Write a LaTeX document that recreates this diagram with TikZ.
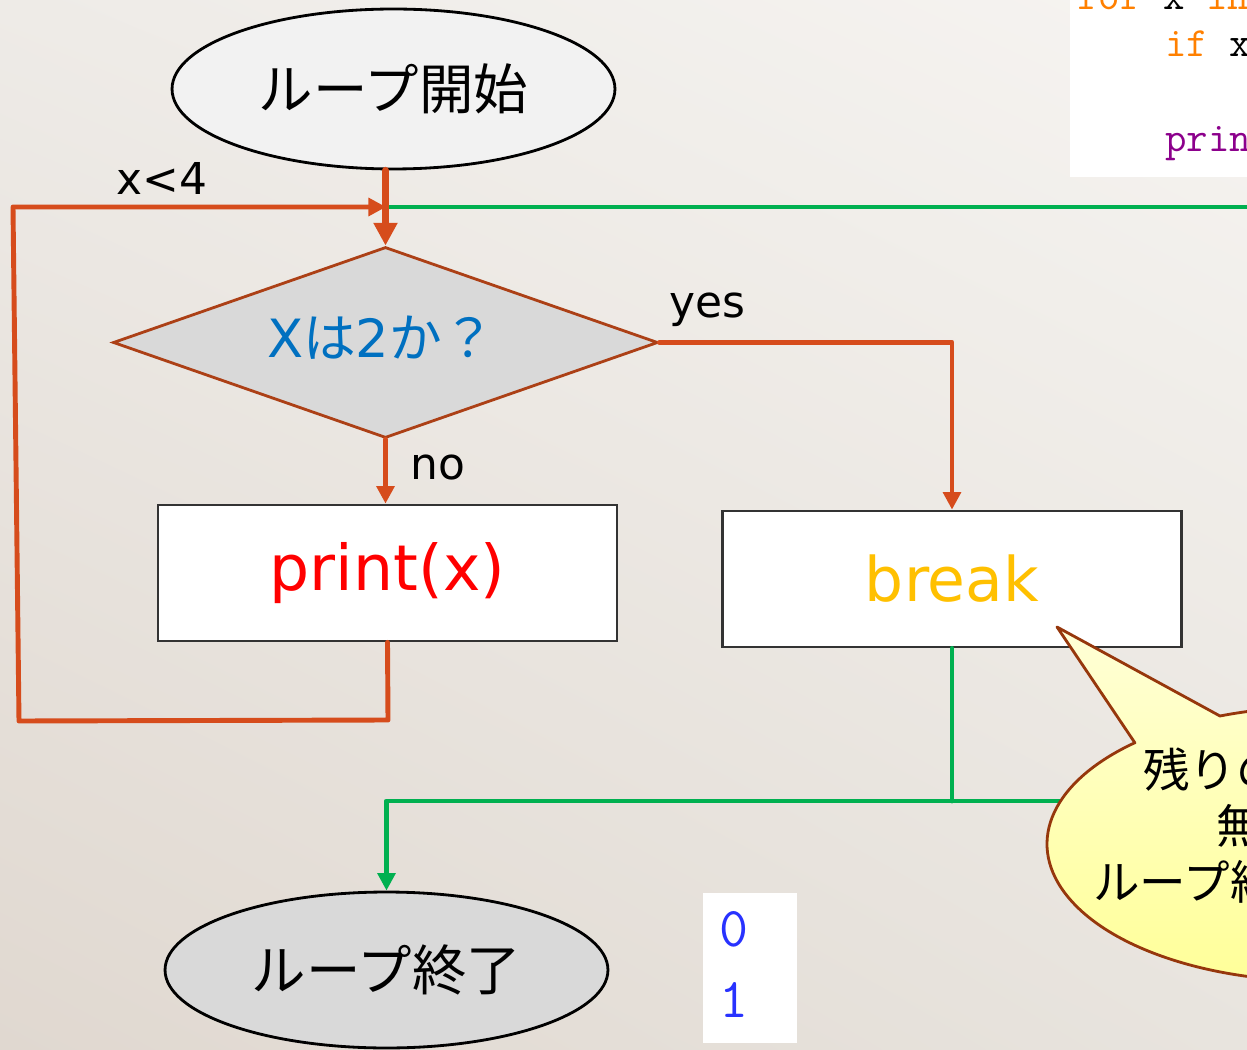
\documentclass[tikz,border=0pt]{standalone}
\usepackage{fontspec}
\setmainfont{DejaVu Sans}
\newfontfamily\jp{Noto Sans CJK JP}
\usetikzlibrary{shapes.geometric,arrows.meta,shadings}
\definecolor{orng}{RGB}{214,76,28}
\definecolor{grn}{RGB}{0,176,80}
\definecolor{dstroke}{RGB}{172,64,22}
\definecolor{bxline}{RGB}{51,51,51}
\definecolor{clbrown}{RGB}{150,55,12}
\definecolor{qblue}{RGB}{0,112,192}
\definecolor{brkc}{RGB}{255,192,0}
\definecolor{outblue}{RGB}{40,50,255}
\definecolor{kwor}{RGB}{255,128,0}
\definecolor{kwpu}{RGB}{140,0,140}
\definecolor{bgUL}{RGB}{238,235,231}
\definecolor{bgUR}{RGB}{246,244,241}
\definecolor{bgLL}{RGB}{224,216,208}
\definecolor{bgLR}{RGB}{232,228,222}
\definecolor{startfill}{RGB}{242,242,242}
\definecolor{grayfill}{RGB}{217,217,217}
\definecolor{ctop}{RGB}{255,255,214}
\definecolor{cbot}{RGB}{255,255,150}
\begin{document}
\begin{tikzpicture}[x=0.02cm,y=-0.02cm,
 oline/.style={draw=orng,line width=2.8pt,line cap=round,line join=round},
 oarrow/.style={oline,-{Triangle[length=10pt,width=10pt]}},
 gline/.style={draw=grn,line width=2.8pt,line cap=round,line join=round},
 garrow/.style={gline,-{Triangle[length=10pt,width=10pt]}},
 term/.style={ellipse,draw=black,line width=1.6pt,inner sep=0pt,minimum width=8.86cm,font=\jp\fontsize{31pt}{37pt}\selectfont},
 procbox/.style={rectangle,draw=bxline,fill=white,line width=1.6pt,inner sep=0pt,minimum width=9.18cm,minimum height=2.72cm},
 lbl/.style={font=\fontsize{25pt}{30pt}\selectfont,text=black,inner sep=0pt},
 codetxt/.style={anchor=base west,inner sep=0pt,font=\ttfamily\fontsize{23.7pt}{28pt}\selectfont},
 outtxt/.style={anchor=base,inner sep=0pt,text=outblue,font=\ttfamily\fontsize{32pt}{38pt}\selectfont},
 calltxt/.style={anchor=west,inner sep=0pt,text=black,font=\jp\fontsize{26.5pt}{32pt}\selectfont},
]
\useasboundingbox (0,0) rectangle (1247,1050);
% background
\shade[upper left=bgUL,upper right=bgUR,lower left=bgLL,lower right=bgLR]
 (0,0) rectangle (1247,1050);

% code snippet (top right)
\begin{scope}
\clip (1070,0) rectangle (1247,177);
\fill[white] (1070,0) rectangle (1247,177);
\node[codetxt] (code1) at (1077,10) {{\color{kwor}for} x {\color{kwor}in} {\color{kwpu}range}(4):};
\node[codetxt] (code2) at (1165,57) {{\color{kwor}if} x==2:};
\node[codetxt] (code3) at (1165,152) {{\color{kwpu}print}(x)};
\end{scope}

% nodes
\node[term,fill=startfill,minimum height=3.2cm] (start) at (393.5,89) {ループ開始};
\node[diamond,draw=dstroke,fill=grayfill,line width=1.6pt,inner sep=0pt,aspect=2.85,
 minimum width=10.9cm,minimum height=3.82cm] (dia) at (385.5,342.5) {};
\node[text=qblue,font=\fontsize{30pt}{36pt}\selectfont,inner sep=0pt] (diatxt) at (381,338) {X{\jp は}2{\jp か？}};
\node[procbox,text=red,font=\fontsize{36pt}{43pt}\selectfont] (prt) at (387.5,573) {print(x)};
\node[procbox,text=brkc,font=\fontsize{35pt}{42pt}\selectfont] (brk) at (952,579) {break};
\node[term,fill=grayfill,minimum height=3.12cm] (finish) at (386.5,970) {ループ終了};

% labels
\node[lbl] (lx) at (162,178) {x<4};
\node[lbl] (lyes) at (707,310) {yes};
\node[lbl] (lno) at (438,468) {no};

% coordinates
\coordinate (jn) at (386,207);
\coordinate (gR) at (1247,207);
\coordinate (gR2) at (1247,801);
\coordinate (lbr) at (388,720);
\coordinate (lbl) at (19,721);
\coordinate (ltl) at (13,207);

% green connectors
\draw[gline] (jn) -- (gR);
\draw[gline] (brk.south) -- (brk.south |- gR2);
\draw[garrow] (gR2) -- (gR2 -| finish.north) -- (finish.north);

% orange connectors
\draw[oline,line width=4pt,-{Triangle[length=13pt,width=13pt]}] (start.south -| dia.north) -- (dia.north);
\draw[oarrow] (prt.south) -- (lbr) -- (lbl) -- (ltl) -- (jn);
\draw[oarrow] (dia.east) -| (brk.north);
\draw[oarrow] (dia.south) -- (dia.south |- prt.north);

% callout
\draw[draw=clbrown,line width=1.6pt,line join=round,top color=ctop,bottom color=cbot]
 (1135,743) -- (1057,627) -- (1220,716) arc[start angle=110.9,end angle=-227.6,x radius=5.38cm,y radius=2.74cm] -- cycle;
\begin{scope}
\clip (1000,600) rectangle (1247,1050);
\node[calltxt] (c1) at (1143,770) {残りの処理を};
\node[calltxt] (c2) at (1216,826) {無視して};
\node[calltxt] (c3) at (1093,882) {ループ終了};
\end{scope}

% output box
\fill[white] (703,893) rectangle (797,1043);
\node[outtxt] (o0) at (734,946) {0};
\node[outtxt] (o1) at (734,1017) {1};
\end{tikzpicture}
\end{document}
